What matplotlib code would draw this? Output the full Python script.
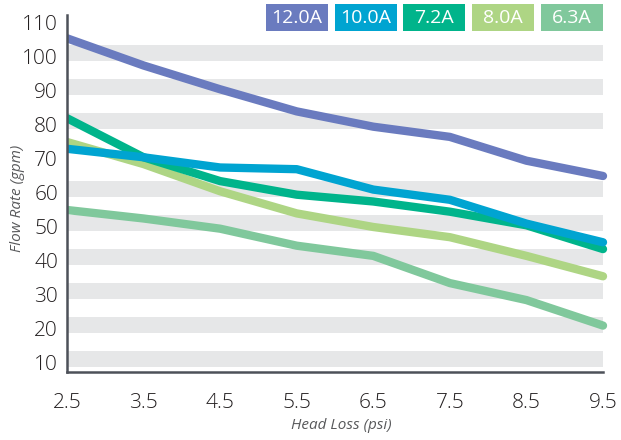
import matplotlib
matplotlib.use("Agg")
import matplotlib.pyplot as plt
from matplotlib.patches import Rectangle

plt.rcParams['font.family'] = ['Open Sans', 'DejaVu Sans']

# Pump curves: flow rate (gpm) against head loss (psi) for each motor current
head_loss = [2.5, 3.5, 4.5, 5.5, 6.5, 7.5, 8.5, 9.5]
flow_12_0a = [105.5, 97.5, 90.5, 84.0, 79.5, 76.5, 69.5, 65.0]
flow_10_0a = [73.0, 70.5, 67.5, 67.0, 61.0, 58.0, 51.0, 45.5]
flow_7_2a = [82.0, 70.5, 63.5, 59.5, 57.5, 54.5, 50.5, 43.5]
flow_8_0a = [75.0, 68.5, 60.5, 54.0, 50.0, 47.0, 41.5, 35.5]
flow_6_3a = [55.0, 52.5, 49.5, 44.5, 41.5, 33.5, 28.5, 21.0]

series_labels = ['12.0A', '10.0A', '7.2A', '8.0A', '6.3A']
series_colors = ['#6a7bbf', '#00a4d1', '#00b48b', '#aed584', '#80c89c']
series_values = [flow_12_0a, flow_10_0a, flow_7_2a, flow_8_0a, flow_6_3a]

y_ticks = [10, 20, 30, 40, 50, 60, 70, 80, 90, 100, 110]
x_ticks = head_loss
band_rows = [10, 20, 30, 40, 50, 60, 80, 90, 100]

W, H = 621, 440
fig = plt.figure(figsize=(W / 100, H / 100), dpi=100)
fig.patch.set_facecolor('white')

left_px, right_px, top_px, bottom_px = 67, 607.6, 15, 372
ax = fig.add_axes([left_px / W, 1 - bottom_px / H,
                   (right_px - left_px) / W, (bottom_px - top_px) / H])
ax.set_xlim(2.5, 9.56)
ax.set_ylim(7.35, 112.35)

# light grey horizontal bands behind the curves
for t in band_rows:
    ax.fill_between([head_loss[0], head_loss[-1]], t - 1.05, t + 3.65,
                    color='#e6e7e8', lw=0, zorder=0)

# draw from last to first so the first series sits on top
n = len(series_values)
for i in reversed(range(n)):
    ax.plot(head_loss, series_values[i], color=series_colors[i], lw=6,
            solid_capstyle='round', solid_joinstyle='round', zorder=2 + (n - i))

for s in ['top', 'right']:
    ax.spines[s].set_visible(False)
for s in ['left', 'bottom']:
    ax.spines[s].set_color('#4d5159')
    ax.spines[s].set_linewidth(1.8)
    ax.spines[s].set_zorder(10)
ax.spines['bottom'].set_bounds(head_loss[0], head_loss[-1])

ax.set_xticks(x_ticks)
ax.set_xticklabels([f'{v:.1f}' for v in x_ticks])
ax.set_yticks(y_ticks)
ax.set_yticklabels([str(v) for v in y_ticks])
ax.tick_params(axis='both', length=0, labelsize=15, colors='#231f20')
ax.tick_params(axis='y', pad=6.5)
ax.tick_params(axis='x', pad=15)
for lab in ax.get_xticklabels() + ax.get_yticklabels():
    lab.set_fontweight('light')

fig.text(18 / W, 1 - 198 / H, 'Flow Rate (gpm)', rotation=90, style='italic',
         fontsize=11, color='#58595b', ha='center', va='center')
fig.text(341 / W, 1 - 425 / H, 'Head Loss (psi)', style='italic',
         fontsize=11, color='#58595b', ha='center', va='center')

# coloured key boxes across the top
box_w, box_h, box_top = 62, 27, 4
for i, (lab, col) in enumerate(zip(series_labels, series_colors)):
    x0 = 266 + i * 68.7
    fig.patches.append(Rectangle((x0 / W, 1 - (box_top + box_h) / H), box_w / W, box_h / H,
                                 transform=fig.transFigure, facecolor=col,
                                 edgecolor='none'))
    fig.text((x0 + box_w / 2) / W, 1 - (box_top + box_h / 2 + 0.5) / H, lab,
             color='white', fontsize=14, ha='center', va='center')

fig.savefig('out.png', dpi=100, facecolor='white')
